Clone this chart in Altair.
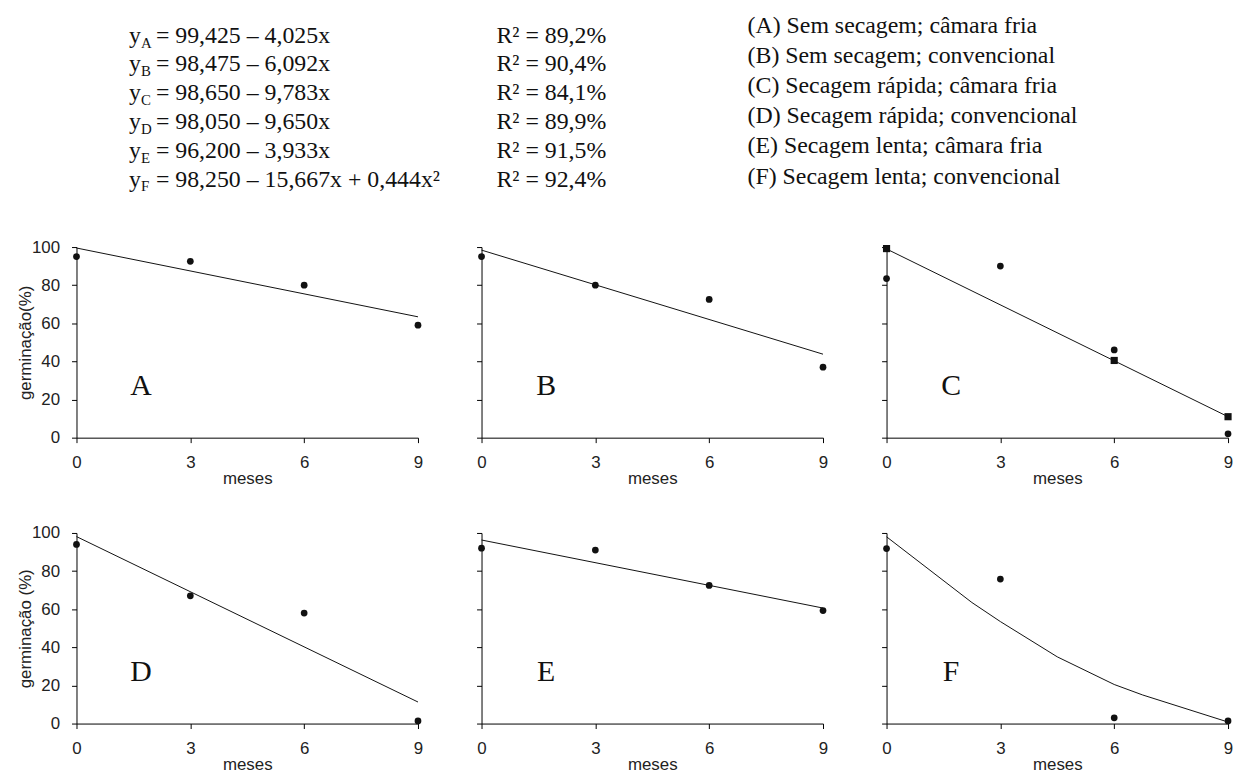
import altair as alt
import pandas as pd

# ---------------- data ----------------
months = [0, 3, 6, 9]
obs_A = [95.0, 92.5, 80.0, 59.0]
obs_B = [95.0, 80.0, 72.5, 37.0]
obs_C = [83.5, 90.0, 46.0, 2.0]
obs_D = [94.0, 67.0, 58.0, 1.4]
obs_E = [92.0, 91.0, 72.5, 59.3]
obs_F = [91.8, 75.8, 3.0, 1.4]
sq_C_months = [0, 6, 9]
sq_C = [99.2, 40.5, 11.0]

fit_months = [0, 9]
fit_A = [99.5, 63.4]
fit_B = [98.4, 43.8]
fit_C = [99.0, 11.0]
fit_D = [98.1, 11.3]
fit_E = [96.3, 60.6]
fit_F_months = [0, 2.25, 3, 4.5, 6, 6.75, 9]
fit_F = [98.0, 63.5, 53.5, 35.0, 20.5, 15.0, 0.8]

eq_letters = ["A", "B", "C", "D", "E", "F"]
eq_rhs = [
    "= 99,425 – 4,025x",
    "= 98,475 – 6,092x",
    "= 98,650 – 9,783x",
    "= 98,050 – 9,650x",
    "= 96,200 – 3,933x",
    "= 98,250 – 15,667x + 0,444x²",
]
r2 = ["R² = 89,2%", "R² = 90,4%", "R² = 84,1%", "R² = 89,9%", "R² = 91,5%", "R² = 92,4%"]
legend = [
    "(A) Sem secagem; câmara fria",
    "(B) Sem secagem; convencional",
    "(C) Secagem rápida; câmara fria",
    "(D) Secagem rápida; convencional",
    "(E) Secagem lenta; câmara fria",
    "(F) Secagem lenta; convencional",
]
y_ticks = [0, 20, 40, 60, 80, 100]
rows = list(range(6))

# ---------------- style ----------------
W, H = 344, 192
SANS = "Liberation Sans"
SERIF = "Liberation Serif"
INK = "#111111"
EQ_FS = 24
LG_FS = 24


def header_layer():
    hdr = pd.DataFrame({"row": rows, "sub": eq_letters, "rhs": eq_rhs, "r2": r2,
                        "legend": legend})
    eq_y = alt.Y("row:Q", axis=None,
                 scale=alt.Scale(domain=[0, 5], range=[-213, -68], nice=False, zero=False))
    lg_y = alt.Y("row:Q", axis=None,
                 scale=alt.Scale(domain=[0, 5], range=[-223, -71], nice=False, zero=False))
    base = alt.Chart(hdr)
    t_y = base.mark_text(font=SERIF, fontSize=EQ_FS, color=INK, align="left",
                         baseline="middle").encode(x=alt.value(53), y=eq_y, text=alt.value("y"))
    t_sub = base.mark_text(font=SERIF, fontSize=15, color=INK, align="left",
                           baseline="middle", dy=7).encode(x=alt.value(65), y=eq_y, text="sub:N")
    t_rhs = base.mark_text(font=SERIF, fontSize=EQ_FS, color=INK, align="left",
                           baseline="middle").encode(x=alt.value(80), y=eq_y, text="rhs:N")
    t_r2 = base.mark_text(font=SERIF, fontSize=EQ_FS, color=INK, align="left",
                          baseline="middle").encode(x=alt.value(423), y=eq_y, text="r2:N")
    eqs = alt.layer(t_y, t_sub, t_rhs, t_r2)
    lg = base.mark_text(font=SERIF, fontSize=LG_FS, color=INK, align="left",
                        baseline="middle").encode(x=alt.value(676), y=lg_y, text="legend:N")
    return eqs, lg


def panel(letter, obs, fx, fy, first_col, ytitle, sq_x=None, sq_y=None, header=False):
    xs = alt.Scale(domain=[0, 9], nice=False, zero=False)
    ys = alt.Scale(domain=[0, 100], nice=False)
    x_axis = alt.Axis(values=months, tickCount=10, title="meses", labelFlush=False,
                      labelOverlap=False, tickSize=5, labelPadding=12, titlePadding=0)
    if first_col:
        y_axis = alt.Axis(values=y_ticks, tickCount=10, title=ytitle, labelFlush=False,
                          labelOverlap=False, tickSize=5, labelPadding=12, titlePadding=-3)
    else:
        y_axis = alt.Axis(values=y_ticks, tickCount=10, title="", labels=False, tickSize=5)

    line = alt.Chart(pd.DataFrame({"m": fx, "g": fy})).mark_line(
        color=INK, strokeWidth=1, clip=False
    ).encode(x=alt.X("m:Q", scale=xs, axis=x_axis), y=alt.Y("g:Q", scale=ys, axis=y_axis))

    pts = alt.Chart(pd.DataFrame({"m": months, "g": obs})).mark_circle(
        color=INK, opacity=1, size=46, clip=False
    ).encode(x="m:Q", y="g:Q")

    layers = [line, pts]
    if sq_x is not None:
        sq = alt.Chart(pd.DataFrame({"m": sq_x, "g": sq_y})).mark_square(
            color=INK, opacity=1, size=52, clip=False
        ).encode(x="m:Q", y="g:Q")
        layers.append(sq)

    lab = alt.Chart(pd.DataFrame({"t": [letter]})).mark_text(
        font=SERIF, fontSize=30, color=INK, align="center", baseline="alphabetic"
    ).encode(x=alt.value(65), y=alt.value(149), text="t:N")
    layers.append(lab)

    core = alt.layer(*layers)
    if header:
        eqs, lg = header_layer()
        core = alt.layer(core, eqs, lg).resolve_scale(y="independent")
    return core.properties(width=W, height=H)


pA = panel("A", obs_A, fit_months, fit_A, True, "germinação(%)", header=True)
pB = panel("B", obs_B, fit_months, fit_B, False, "")
pC = panel("C", obs_C, fit_months, fit_C, False, "", sq_C_months, sq_C)
pD = panel("D", obs_D, fit_months, fit_D, True, "germinação (%)")
pE = panel("E", obs_E, fit_months, fit_E, False, "")
pF = panel("F", obs_F, fit_F_months, fit_F, False, "")

chart = alt.concat(
    pA, pB, pC, pD, pE, pF, columns=3, spacing={"row": 96, "column": 64}, bounds="flush"
).properties(
    padding={"left": 8, "top": 3, "right": 0, "bottom": 0}
).configure_view(stroke=None).configure_axis(
    grid=False, domainColor="#000000", domainWidth=1, tickColor="#000000", tickWidth=1,
    labelFont=SANS, labelFontSize=17, labelColor="#222222",
    titleFont=SANS, titleFontSize=17, titleFontWeight="normal", titleColor="#222222",
)

chart.save("out.html", embed_options={"renderer": "svg", "actions": False})
